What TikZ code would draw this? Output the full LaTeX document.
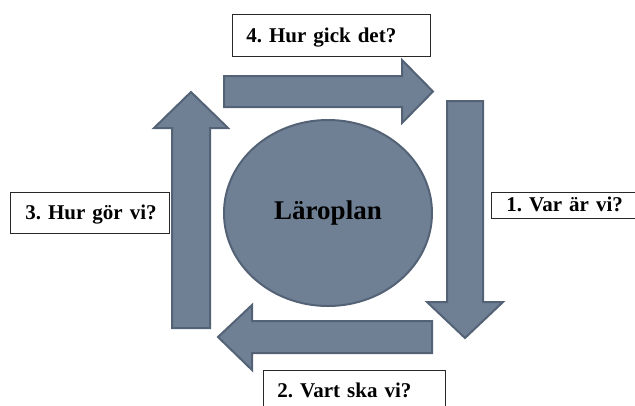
\documentclass[tikz,border=0pt]{standalone}
\usepackage{fontspec}
\setmainfont{Liberation Serif}
\usetikzlibrary{shapes.geometric}
\definecolor{slatefill}{RGB}{112,128,148}
\definecolor{slateline}{RGB}{84,98,118}
\definecolor{boxline}{RGB}{40,40,40}
\frenchspacing
\tikzset{
  blockarrow/.style={fill=slatefill, draw=slateline, line width=2pt, line join=miter},
  qbox/.style={draw=boxline, line width=0.8pt, fill=white, anchor=north west,
    inner xsep=14pt, inner ysep=0pt, align=left, text height=14pt, text depth=0pt,
    font=\fontsize{21}{25}\selectfont\bfseries},
  centre/.style={ellipse, fill=slatefill, draw=slateline, line width=2pt,
    minimum width=208pt, minimum height=186pt, inner sep=0pt,
    font=\fontsize{27}{32}\selectfont\bfseries}
}
\begin{document}
\begin{tikzpicture}[x=1pt,y=-1pt]
\useasboundingbox (0,0) rectangle (635,405);
\clip (0,0) rectangle (635,405);
% block arrows
\draw[blockarrow] (224,76) -- (402,76) -- (402,60) -- (433,91.5) -- (402,123) -- (402,107) -- (224,107) -- cycle;
\draw[blockarrow] (447,101) -- (483,101) -- (483,302) -- (503,302) -- (465,338) -- (427,302) -- (447,302) -- cycle;
\draw[blockarrow] (432,321) -- (432,353) -- (252,353) -- (252,370) -- (218,337) -- (252,305) -- (252,321) -- cycle;
\draw[blockarrow] (172,328) -- (210,328) -- (210,128) -- (228,128) -- (191,92) -- (154,128) -- (172,128) -- cycle;
% centre
\node[centre] (plan) at (328,213) {Läroplan};
% question boxes
\node[qbox, minimum width=198pt, minimum height=42pt, text width=170pt] (q4) at (232,14) {\mbox{4. Hur gick det?}};
\node[qbox, inner xsep=15pt, minimum width=170pt, minimum height=26pt, text width=140pt] (q1) at (491,191.5) {\mbox{1. Var är vi?}};
\node[qbox, inner xsep=15pt, minimum width=159pt, minimum height=41pt, text width=129pt] (q3) at (10,192) {\mbox{3. Hur gör vi?}};
\node[qbox, minimum width=182pt, minimum height=40pt, text width=154pt] (q2) at (263,370) {\mbox{2. Vart ska vi?}};
\end{tikzpicture}
\end{document}
